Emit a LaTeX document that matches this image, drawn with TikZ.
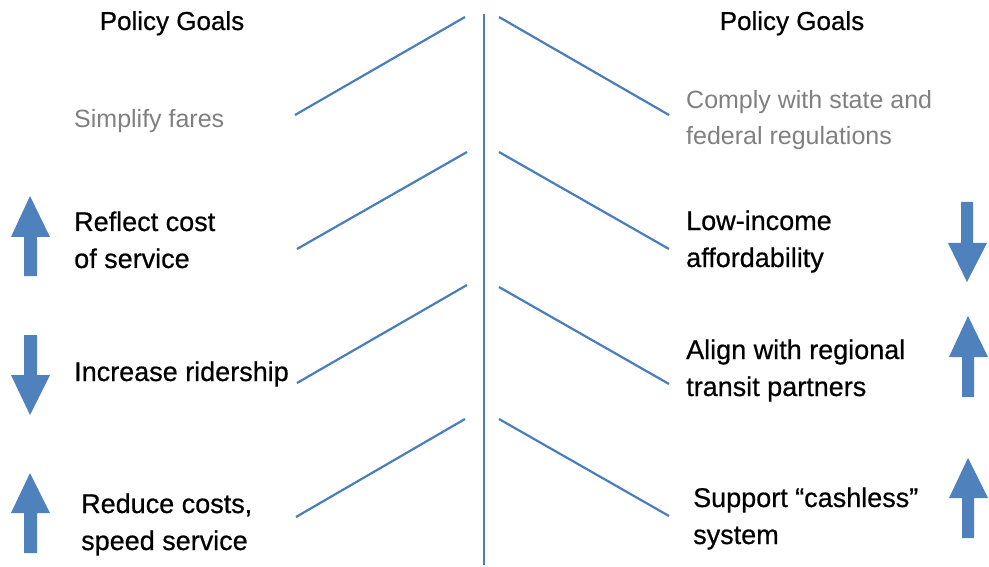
\documentclass[tikz,border=0pt]{standalone}
\usepackage{fontspec}
\setmainfont{Liberation Sans}
\newfontfamily\goalfont[FakeBold=0.6]{Liberation Sans}
\definecolor{lineblue}{HTML}{4A7EBB}
\definecolor{arrowblue}{HTML}{4F81BD}
\definecolor{graytext}{HTML}{808080}
\tikzset{
  spine/.style={draw=lineblue, line width=2.2pt},
  branch/.style={draw=lineblue, line width=2.2pt},
  goal/.style={anchor=base west, inner sep=0pt, align=left, font=\goalfont\fontsize{27}{37}\selectfont, text=black},
  softgoal/.style={anchor=base west, inner sep=0pt, align=left, font=\fontsize{25}{36}\selectfont, text=graytext},
  head/.style={anchor=base, inner sep=0pt, font=\goalfont\fontsize{26}{30}\selectfont},
  bigarrow/.style={fill=arrowblue, draw=none}
}
\begin{document}
\begin{tikzpicture}[x=1pt,y=-1pt]
\useasboundingbox (0,0) rectangle (989,567);
% spine
\coordinate (top) at (484,14);
\coordinate (bot) at (484,565);
\draw[spine] (top) -- (bot);
% left branches
\coordinate (l1a) at (295,115); \coordinate (l1b) at (465,17);
\coordinate (l2a) at (297,249); \coordinate (l2b) at (467,152);
\coordinate (l3a) at (297,383); \coordinate (l3b) at (467,285);
\coordinate (l4a) at (296,517); \coordinate (l4b) at (465,419);
\draw[branch] (l1a) -- (l1b);
\draw[branch] (l2a) -- (l2b);
\draw[branch] (l3a) -- (l3b);
\draw[branch] (l4a) -- (l4b);
% right branches
\coordinate (r1a) at (499,17); \coordinate (r1b) at (669,115);
\coordinate (r2a) at (499,152); \coordinate (r2b) at (669,249);
\coordinate (r3a) at (499,287); \coordinate (r3b) at (669,384);
\coordinate (r4a) at (499,419); \coordinate (r4b) at (669,516);
\draw[branch] (r1a) -- (r1b);
\draw[branch] (r2a) -- (r2b);
\draw[branch] (r3a) -- (r3b);
\draw[branch] (r4a) -- (r4b);
% headings
\node[head] (hl) at (172,30) {Policy Goals};
\node[head] (hr) at (792,30) {Policy Goals};
% left goals (base = last line)
\node[softgoal] (g1) at (74,128) {Simplify fares};
\node[goal] (g2) at (74,268) {Reflect cost\\of service};
\node[goal] (g3) at (74,381) {Increase ridership};
\node[goal] (g4) at (81,550) {Reduce costs,\\speed service};
% right goals
\node[softgoal] (g5) at (686,145) {Comply with state and\\federal regulations};
\node[goal] (g6) at (686,267) {Low-income\\affordability};
\node[goal] (g7) at (686,396) {Align with regional\\transit partners};
\node[goal] (g8) at (693,544) {Support “cashless”\\system};
% arrows left
\fill[bigarrow] (30,196) -- (50,237) -- (37,237) -- (37,276) -- (24,276) -- (24,237) -- (11,237) -- cycle;
\fill[bigarrow] (30,415) -- (50,375) -- (37,375) -- (37,335) -- (24,335) -- (24,375) -- (11,375) -- cycle;
\fill[bigarrow] (30,473) -- (50,513) -- (37,513) -- (37,553) -- (24,553) -- (24,513) -- (11,513) -- cycle;
% arrows right
\fill[bigarrow] (967,282) -- (987,243) -- (973,243) -- (973,202) -- (961,202) -- (961,243) -- (948,243) -- cycle;
\fill[bigarrow] (968,316) -- (988,357) -- (974,357) -- (974,397) -- (962,397) -- (962,357) -- (949,357) -- cycle;
\fill[bigarrow] (968,458) -- (988,498) -- (974,498) -- (974,538) -- (962,538) -- (962,498) -- (949,498) -- cycle;
\end{tikzpicture}
\end{document}
